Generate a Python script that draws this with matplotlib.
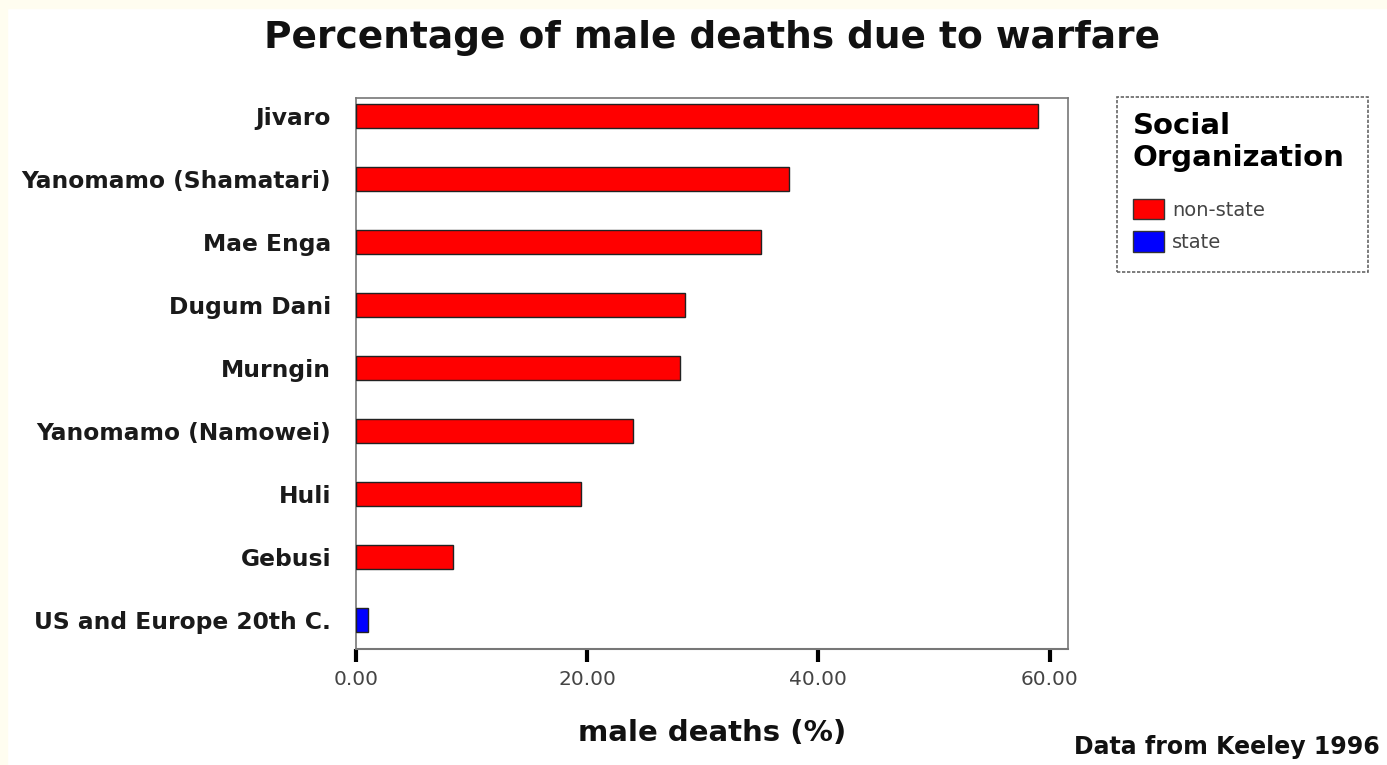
import matplotlib
matplotlib.use('Agg')
import matplotlib.pyplot as plt
from matplotlib.patches import Patch, Rectangle

# data (Keeley 1996)
groups = ['Jivaro', 'Yanomamo (Shamatari)', 'Mae Enga', 'Dugum Dani', 'Murngin',
          'Yanomamo (Namowei)', 'Huli', 'Gebusi', 'US and Europe 20th C.']
male_deaths = [59.0, 37.5, 35.0, 28.5, 28.0, 24.0, 19.5, 8.4, 1.0]
organization = ['non-state'] * 8 + ['state']
org_colors = {'non-state': '#FF0000', 'state': '#0000FF'}
xticks = [0, 20, 40, 60]

plt.rcParams['font.family'] = ['DejaVu Sans']

W, H = 1387, 765
fig = plt.figure(figsize=(W / 100, H / 100), dpi=100)
fig.patch.set_facecolor('white')
# cream strip on left and top
fig.patches.append(Rectangle((0, 0), 7 / W, 1, transform=fig.transFigure, color='#FFFDF0', zorder=0))
fig.patches.append(Rectangle((0, 1 - 8 / H), 1, 8 / H, transform=fig.transFigure, color='#FFFDF0', zorder=0))

ax = fig.add_axes([356 / W, 1 - 649 / H, (1068 - 356) / W, (649 - 98) / H])

ypos = list(range(len(groups)))
colors = [org_colors[o] for o in organization]
ax.barh(ypos, male_deaths, height=0.38, color=colors, edgecolor='#222222', linewidth=1.0, zorder=3)

ax.set_ylim(len(groups) - 1 + 0.46, -0.29)
ax.set_xlim(0, 61.6)
ax.set_yticks(ypos)
ax.set_yticklabels(groups, fontsize=16.8, fontweight='bold', color='#1a1a1a')
ax.tick_params(axis='y', length=0, pad=18)
ax.set_xticks(xticks)
ax.set_xticklabels(['%.2f' % v for v in xticks], fontsize=14.5, color='#444444')
ax.tick_params(axis='x', length=9, width=3, color='black', pad=6)

for side in ['top', 'right', 'left']:
    ax.spines[side].set_linestyle((0, (2, 1)))
    ax.spines[side].set_color('#777777')
    ax.spines[side].set_linewidth(1.2)
ax.spines['bottom'].set_color('#777777')
ax.spines['bottom'].set_linewidth(1.5)

ax.set_xlabel('male deaths (%)', fontsize=21, fontweight='bold', labelpad=22, color='#111111')

fig.text(712 / W, 1 - 38 / H, 'Percentage of male deaths due to warfare', ha='center', va='center',
         fontsize=27, fontweight='bold', color='#111111')
fig.text(1380 / W, 1 - 747 / H, 'Data from Keeley 1996', ha='right', va='center',
         fontsize=17, fontweight='bold', color='#111111')

# legend frame drawn separately so it can keep the reference's width
fig.patches.append(Rectangle((1117 / W, 1 - 272 / H), (1368 - 1117) / W, (272 - 97) / H,
                             transform=fig.transFigure, facecolor='white', edgecolor='#666666',
                             linestyle=(0, (2, 1)), linewidth=1.2, zorder=1))
handles = [Patch(facecolor=org_colors[k], edgecolor='#333333', label=k) for k in org_colors]
leg = fig.legend(handles=handles, title='Social\nOrganization', loc='upper left',
                 bbox_to_anchor=(1133 / W, 1 - 112 / H), fontsize=14,
                 title_fontproperties={'weight': 'bold', 'size': 21},
                 frameon=False, handlelength=1.6, handleheight=1.25,
                 handletextpad=0.4, labelspacing=0.6, borderpad=0, borderaxespad=0,
                 alignment='left')
leg._legend_box.sep = 19
for t in leg.get_texts():
    t.set_color('#444444')

fig.savefig('out.png', dpi=100, facecolor=fig.get_facecolor())
